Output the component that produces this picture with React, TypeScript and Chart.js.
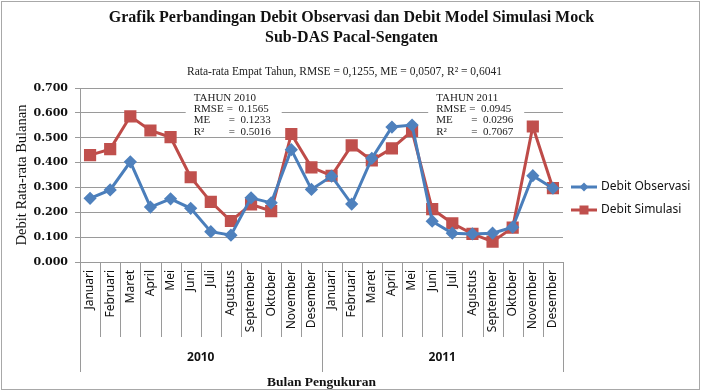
import React, { useEffect, useRef } from 'react';
import { Chart, registerables } from 'chart.js';

Chart.register(...registerables);

const months = ['Januari', 'Februari', 'Maret', 'April', 'Mei', 'Juni', 'Juli', 'Agustus', 'September', 'Oktober', 'November', 'Desember'];
const years = ['2010', '2011'];
const labels = [...months, ...months];

const observed = [0.256, 0.290, 0.403, 0.221, 0.254, 0.216, 0.122, 0.108, 0.258, 0.238, 0.452, 0.292,
  0.345, 0.233, 0.417, 0.543, 0.551, 0.164, 0.116, 0.113, 0.116, 0.140, 0.347, 0.297];
const simulated = [0.430, 0.454, 0.586, 0.529, 0.502, 0.341, 0.242, 0.165, 0.232, 0.205, 0.515, 0.381,
  0.347, 0.469, 0.409, 0.457, 0.527, 0.213, 0.156, 0.113, 0.082, 0.138, 0.545, 0.297];

const yTicks = [0, 0.1, 0.2, 0.3, 0.4, 0.5, 0.6, 0.7];

const statYears = ['TAHUN 2010', 'TAHUN 2011'];
const statRMSE = ['0.1565', '0.0945'];
const statME = ['0.1233', '0.0296'];
const statR2 = ['0.5016', '0.7067'];
const statAnchor = [5, 17];

const titleLines = ['Grafik Perbandingan Debit Observasi dan Debit Model Simulasi Mock', 'Sub-DAS Pacal-Sengaten'];
const subtitleText = 'Rata-rata Empat Tahun, RMSE = 0,1255, ME = 0,0507, R\u00B2 = 0,6041';

const BLUE = '#4A7EBB';
const RED = '#BE4B48';
const GRID = '#9a9a9a';

const decorPlugin = {
  id: 'decor',
  beforeDraw(chart: any) {
    const { ctx, width, height } = chart;
    ctx.save();
    ctx.fillStyle = '#ffffff';
    ctx.fillRect(0, 0, width, height);
    ctx.strokeStyle = '#a8a8a8';
    ctx.lineWidth = 1;
    ctx.strokeRect(1.5, 1.5, width - 3, height - 4);
    // titles
    ctx.fillStyle = '#111';
    ctx.textAlign = 'center';
    ctx.textBaseline = 'middle';
    ctx.font = 'bold 16px "Liberation Serif"';
    titleLines.forEach((t, i) => ctx.fillText(t, width / 2 + 1, 18 + i * 20));
    ctx.fillStyle = '#222';
    ctx.font = '11.5px "Liberation Serif"';
    ctx.fillText(subtitleText, width / 2 - 6, 72);
    ctx.restore();
  },
  beforeDatasetsDraw(chart: any) {
    const { ctx } = chart;
    const xs = chart.scales.x;
    const ys = chart.scales.y;
    ctx.save();
    for (let k = 0; k < statYears.length; k++) {
      const tx = xs.getPixelForValue(statAnchor[k]) + 3 + k * 1;
      const top = ys.getPixelForValue(0.7) + 2;
      ctx.fillStyle = '#ffffff';
      ctx.fillRect(tx - 8, top, 96, 47);
      ctx.fillStyle = '#222';
      ctx.font = '11px "Liberation Serif"';
      ctx.textBaseline = 'middle';
      ctx.textAlign = 'left';
      const y0 = top + 8;
      const dy = 11.3;
      ctx.fillText(statYears[k], tx, y0);
      ctx.fillText('RMSE', tx, y0 + dy);
      ctx.fillText('ME', tx, y0 + 2 * dy);
      ctx.fillText('R\u00B2', tx, y0 + 3 * dy);
      ctx.fillText('=  ' + statRMSE[k], tx + 33, y0 + dy);
      ctx.fillText('=  ' + statME[k], tx + 35, y0 + 2 * dy);
      ctx.fillText('=  ' + statR2[k], tx + 35, y0 + 3 * dy);
    }
    ctx.restore();
  },
  afterDraw(chart: any) {
    const { ctx, chartArea } = chart;
    const xs = chart.scales.x;
    const n = labels.length;
    const bottom = chartArea.bottom;
    ctx.save();
    ctx.strokeStyle = GRID;
    ctx.lineWidth = 1;
    for (let i = 0; i <= n; i++) {
      const x = Math.round(xs.getPixelForValue(i - 0.5)) + 0.5;
      const isGroup = i % months.length === 0;
      ctx.beginPath();
      ctx.moveTo(x, bottom);
      ctx.lineTo(x, isGroup ? bottom + 110 : bottom + 75);
      ctx.stroke();
    }
    ctx.fillStyle = '#111';
    ctx.font = 'bold 12px "Noto Sans"';
    ctx.textAlign = 'center';
    ctx.textBaseline = 'middle';
    years.forEach((yr, g) => {
      const a = xs.getPixelForValue(g * months.length);
      const b = xs.getPixelForValue(g * months.length + months.length - 1);
      ctx.fillText(yr, (a + b) / 2, bottom + 96);
    });

    // legend
    const lx = chartArea.right + 8;
    const cy = (chartArea.top + chartArea.bottom) / 2;
    chart.data.datasets.forEach((ds: any, i: number) => {
      const y = cy + 12 + i * 23;
      ctx.strokeStyle = ds.borderColor;
      ctx.lineWidth = 3;
      ctx.beginPath();
      ctx.moveTo(lx, y);
      ctx.lineTo(lx + 26, y);
      ctx.stroke();
      ctx.fillStyle = ds.pointBackgroundColor;
      if (ds.pointStyle === 'rectRot') {
        ctx.beginPath();
        ctx.moveTo(lx + 13, y - 4.5);
        ctx.lineTo(lx + 17.5, y);
        ctx.lineTo(lx + 13, y + 4.5);
        ctx.lineTo(lx + 8.5, y);
        ctx.closePath();
        ctx.fill();
      } else {
        ctx.fillRect(lx + 8.5, y - 4.5, 9, 9);
      }
      ctx.fillStyle = '#111';
      ctx.font = '12px "Noto Sans"';
      ctx.textAlign = 'left';
      ctx.textBaseline = 'middle';
      ctx.fillText(ds.label, lx + 30, y);
    });
    ctx.restore();
  },
};

export default function App() {
  const ref = useRef<HTMLCanvasElement | null>(null);
  useEffect(() => {
    if (!ref.current) return;
    const chart = new Chart(ref.current, {
      type: 'line',
      data: {
        labels,
        datasets: [
          {
            label: 'Debit Observasi',
            data: observed,
            borderColor: BLUE,
            backgroundColor: BLUE,
            pointBackgroundColor: '#4F81BD',
            pointBorderColor: '#4F81BD',
            pointStyle: 'rectRot',
            pointRadius: 4.5,
            borderWidth: 3,
            tension: 0,
          },
          {
            label: 'Debit Simulasi',
            data: simulated,
            borderColor: RED,
            backgroundColor: RED,
            pointBackgroundColor: '#C0504D',
            pointBorderColor: '#C0504D',
            pointStyle: 'rect',
            pointRadius: 6.5,
            borderWidth: 3,
            tension: 0,
          },
        ],
      },
      options: {
        responsive: false,
        animation: false,
        devicePixelRatio: 1,
        layout: { padding: { left: 0, right: 138, top: 88, bottom: 0 } },
        plugins: {
          legend: { display: false },
          tooltip: { enabled: false },
          title: { display: false },
          subtitle: { display: false },
        },
        scales: {
          x: {
            type: 'category',
            offset: true,
            grid: { display: false, drawTicks: false },
            border: { display: true, color: GRID },
            ticks: {
              autoSkip: false,
              maxRotation: 90,
              minRotation: 90,
              padding: 8,
              color: '#111',
              font: { family: '"Noto Sans"', size: 12 },
            },
            title: {
              display: true,
              text: 'Bulan Pengukuran',
              color: '#111',
              font: { family: '"Liberation Serif"', size: 13.5, weight: 'bold' },
              padding: { top: 0, bottom: 1 },
            },
            afterFit: (s: any) => { s.height = 130; },
          },
          y: {
            min: 0,
            max: 0.7,
            afterBuildTicks: (s: any) => { s.ticks = yTicks.map((v) => ({ value: v })); },
            grid: { color: GRID, tickLength: 5, drawTicks: true },
            border: { display: true, color: GRID },
            ticks: {
              padding: 7,
              color: '#111',
              font: { family: '"DejaVu Serif"', size: 11, weight: 'bold' },
              callback: (v: any) => Number(v).toFixed(3),
            },
            title: {
              display: true,
              text: 'Debit Rata-rata Bulanan',
              color: '#111',
              font: { family: '"Liberation Serif"', size: 14.5 },
              padding: { top: 13, bottom: 0 },
            },
            afterFit: (s: any) => { s.width = 80; },
          },
        },
      },
      plugins: [decorPlugin],
    } as any);
    return () => chart.destroy();
  }, []);
  return (
    <div style={{ position: 'fixed', left: 0, top: 0, width: 701, height: 392 }}>
      <canvas ref={ref} width={701} height={392} style={{ width: 701, height: 392 }} />
    </div>
  );
}
